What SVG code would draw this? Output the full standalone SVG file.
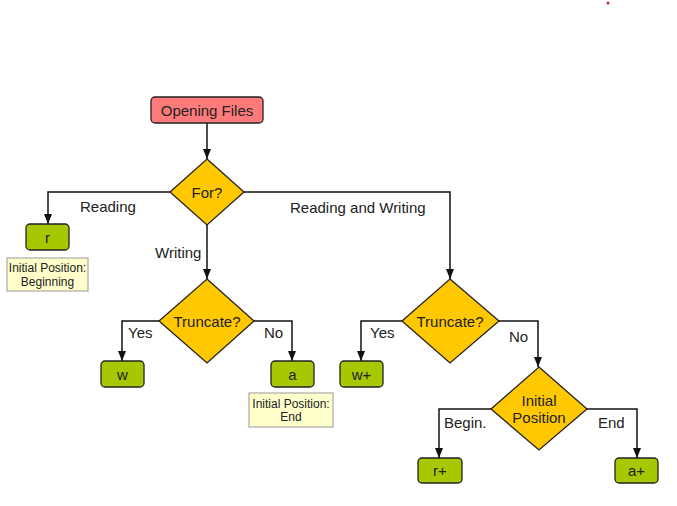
<svg xmlns="http://www.w3.org/2000/svg" width="677" height="506" viewBox="0 0 677 506">
<style>
text{font-family:"Liberation Sans",Arial,sans-serif;fill:#222;}
.t{font-size:15px;text-anchor:middle;dominant-baseline:central;}
.l{font-size:15px;dominant-baseline:central;}
.n{font-size:12px;text-anchor:middle;dominant-baseline:central;}
.start{fill:#ff7b7b;stroke:#222;stroke-width:1.3;}
.dec{fill:#ffc800;stroke:#222;stroke-width:1.3;}
.mode{fill:#a5c800;stroke:#222;stroke-width:1.3;}
.note{fill:#ffffcc;stroke:#999;stroke-width:1;}
.c{fill:none;stroke:#111;stroke-width:1.5;marker-end:url(#ah);}
</style>
<defs>
<marker id="ah" viewBox="0 0 10 10" refX="10" refY="5" markerWidth="10" markerHeight="10" markerUnits="userSpaceOnUse" orient="auto">
<path d="M0,1 L10,5 L0,9 Z" fill="#111"/>
</marker>
</defs>
<rect width="677" height="506" fill="#fff"/>
<circle cx="608" cy="3" r="1.5" fill="#e02020"/>
<g id="connectors">
<path class="c" d="M207,123 V159"/>
<path class="c" d="M170,192 H48 V224"/>
<path class="c" d="M207,225 V279"/>
<path class="c" d="M244,192 H450 V279"/>
<path class="c" d="M159,321 H122 V361"/>
<path class="c" d="M254,321 H292 V361"/>
<path class="c" d="M402,321 H361 V361"/>
<path class="c" d="M499,321 H538 V367"/>
<path class="c" d="M491,409 H439 V458"/>
<path class="c" d="M587,409 H637 V458"/>
<text class="l" x="80" y="206">Reading</text>
<text class="l" x="155" y="252">Writing</text>
<text class="l" x="290" y="207">Reading and Writing</text>
<text class="l" x="128" y="332">Yes</text>
<text class="l" x="264" y="332">No</text>
<text class="l" x="370" y="332">Yes</text>
<text class="l" x="509" y="336">No</text>
<text class="l" x="444" y="422">Begin.</text>
<text class="l" x="598" y="422">End</text>
</g>
<g id="opening">
<rect class="start" x="151" y="97" width="112" height="26" rx="4"/>
<text class="t" x="207" y="110">Opening Files</text>
</g>
<g id="for">
<polygon class="dec" points="207,159 244,192 207,225 170,192"/>
<text class="t" x="207" y="192">For?</text>
</g>
<g id="r">
<rect class="mode" x="26" y="224" width="43" height="26" rx="4"/>
<text class="t" x="47.5" y="237">r</text>
</g>
<g id="note-r">
<rect class="note" x="7" y="258" width="81" height="33"/>
<text class="n" x="47.5" y="268">Initial Position:</text>
<text class="n" x="47.5" y="282">Beginning</text>
</g>
<g id="truncate1">
<polygon class="dec" points="207,279 254,321 207,363 159,321"/>
<text class="t" x="207" y="321">Truncate?</text>
</g>
<g id="w">
<rect class="mode" x="101" y="361" width="43" height="26" rx="4"/>
<text class="t" x="122.5" y="374">w</text>
</g>
<g id="a">
<rect class="mode" x="271" y="361" width="43" height="26" rx="4"/>
<text class="t" x="292.5" y="374">a</text>
</g>
<g id="note-a">
<rect class="note" x="249" y="393" width="84" height="34"/>
<text class="n" x="291" y="404">Initial Position:</text>
<text class="n" x="291" y="417">End</text>
</g>
<g id="truncate2">
<polygon class="dec" points="450,279 499,321 450,363 402,321"/>
<text class="t" x="450" y="321">Truncate?</text>
</g>
<g id="wplus">
<rect class="mode" x="340" y="361" width="43" height="26" rx="4"/>
<text class="t" x="361.5" y="374">w+</text>
</g>
<g id="initpos">
<polygon class="dec" points="539,367 587,409 539,450 491,409"/>
<text class="t" x="539" y="400">Initial</text>
<text class="t" x="539" y="417">Position</text>
</g>
<g id="rplus">
<rect class="mode" x="418" y="458" width="44" height="25" rx="4"/>
<text class="t" x="440" y="470.5">r+</text>
</g>
<g id="aplus">
<rect class="mode" x="615" y="458" width="43" height="25" rx="4"/>
<text class="t" x="636.5" y="470.5">a+</text>
</g>
</svg>
